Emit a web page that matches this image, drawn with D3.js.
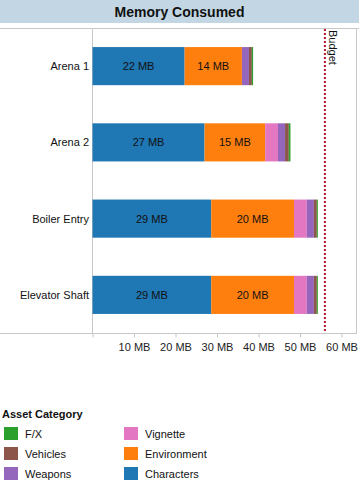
<!DOCTYPE html>
<html>
<head>
<meta charset="utf-8">
<script src="https://cdn.jsdelivr.net/npm/d3@7"></script>
<style>
  body { margin: 0; background: #fff; }
  text { font-family: "Liberation Sans", Arial, sans-serif; }
</style>
</head>
<body>
<svg id="chart" width="359" height="484"></svg>
<script>
// ===========================//
// DATA
// ===========================//

var levels = ["Arena 1", "Arena 2", "Boiler Entry", "Elevator Shaft"]
var categories = ["Characters", "Environment", "Vignette", "Weapons", "Vehicles", "F/X"]

var characters  = [22.2, 27.0, 28.6, 28.6]
var environment = [13.8, 14.6, 19.95, 19.95]
var vignette    = [0, 3.1, 3.1, 3.1]
var weapons     = [1.7, 1.7, 1.7, 1.7]
var vehicles    = [0.7, 0.9, 0.7, 0.7]
var fx          = [0.3, 0.4, 0.25, 0.25]

var budget = 56
var ticks = [10, 20, 30, 40, 50, 60]

// legend order (two columns)
var legendItems = ["F/X", "Vehicles", "Weapons", "Vignette", "Environment", "Characters"]

// ===========================//
// SCALES
// ===========================//

var color = d3.scaleOrdinal()
  .domain(categories)
  .range(["#1f77b4", "#ff7f0e", "#e377c2", "#9467bd", "#8c564b", "#2ca02c"])

var svg = d3.select("#chart")

var plotTop = 28, plotBottom = 333, plotLeft = 92, plotRight = 356

var x = d3.scaleLinear().domain([0, 63.2]).range([plotLeft + 0.5, plotLeft + 0.5 + 63.2 * 4.15])

var y = d3.scaleBand()
  .domain(levels)
  .range([plotTop, plotBottom])
  .paddingInner(0.5)
  .paddingOuter(0.25)

// stacked rows
var rows = levels.map(function(l, i){
  return {level: l, "Characters": characters[i], "Environment": environment[i], "Vignette": vignette[i],
          "Weapons": weapons[i], "Vehicles": vehicles[i], "F/X": fx[i]}
})
var stack = d3.stack().keys(categories)(rows)

// ===========================//
// TITLE
// ===========================//

svg.append("rect").attr("x", 0).attr("y", 0).attr("width", 359).attr("height", 23).attr("fill", "#c3d6e4")
svg.append("text").attr("x", 179.5).attr("y", 17).attr("text-anchor", "middle")
  .style("font-size", "14px").style("font-weight", "bold").attr("fill", "#111")
  .text("Memory Consumed")

// frame lines
svg.append("line").attr("x1", 0).attr("x2", 359).attr("y1", plotTop + 0.5).attr("y2", plotTop + 0.5).attr("stroke", "#c8c8c8")
svg.append("line").attr("x1", plotLeft + 0.5).attr("x2", plotLeft + 0.5).attr("y1", plotTop).attr("y2", plotBottom).attr("stroke", "#c8c8c8")
svg.append("line").attr("x1", plotRight + 0.5).attr("x2", plotRight + 0.5).attr("y1", plotTop).attr("y2", plotBottom).attr("stroke", "#c8c8c8")

// ===========================//
// BARS
// ===========================//

svg.selectAll("g.layer")
  .data(stack)
  .enter()
  .append("g")
    .attr("class", "layer")
    .attr("fill", function(d){ return color(d.key) })
  .selectAll("rect")
  .data(function(d){ return d })
  .enter()
  .append("rect")
    .attr("x", function(d){ return x(d[0]) })
    .attr("y", function(d){ return y(d.data.level) })
    .attr("width", function(d){ return x(d[1]) - x(d[0]) })
    .attr("height", y.bandwidth())

// labels inside the two big segments
stack.slice(0, 2).forEach(function(layer){
  svg.selectAll(null)
    .data(layer)
    .enter()
    .append("text")
      .attr("x", function(d){ return (x(d[0]) + x(d[1])) / 2 })
      .attr("y", function(d){ return y(d.data.level) + y.bandwidth() / 2 + 4 })
      .attr("text-anchor", "middle")
      .style("font-size", "11px")
      .attr("fill", "#111")
      .text(function(d){ return Math.round(d.data[layer.key]) + " MB" })
})

// category labels
svg.selectAll(null)
  .data(levels)
  .enter()
  .append("text")
    .attr("x", plotLeft - 3)
    .attr("y", function(d){ return y(d) + y.bandwidth() / 2 + 4 })
    .attr("text-anchor", "end")
    .style("font-size", "11px")
    .attr("fill", "#111")
    .text(function(d){ return d })

// ===========================//
// BUDGET LINE
// ===========================//

svg.append("line")
  .attr("x1", x(budget)).attr("x2", x(budget))
  .attr("y1", plotTop + 1).attr("y2", plotBottom)
  .attr("stroke", "#b2182b").attr("stroke-width", 2).attr("stroke-dasharray", "2,2")

svg.append("text")
  .attr("transform", "translate(" + (x(budget) + 4) + "," + (plotTop + 2) + ") rotate(90)")
  .style("font-size", "11px")
  .attr("fill", "#111")
  .text("Budget")

// ===========================//
// AXIS
// ===========================//

var axis = svg.append("g")
  .attr("transform", "translate(0," + (plotBottom + 0.5) + ")")
  .call(d3.axisBottom(x).tickValues([0].concat(ticks)).tickSize(4)
    .tickFormat(function(d){ return d ? d + " MB" : "" }))

axis.select(".domain").remove()
axis.selectAll("line").attr("stroke", "#c8c8c8")
axis.selectAll("text").style("font-size", "11px").attr("fill", "#222").attr("dy", "0.95em")
svg.append("line").attr("x1", 0).attr("x2", plotRight + 1).attr("y1", plotBottom + 0.5).attr("y2", plotBottom + 0.5).attr("stroke", "#c8c8c8")

// ===========================//
// LEGEND
// ===========================//

svg.append("text").attr("x", 2).attr("y", 418)
  .style("font-size", "11px").style("font-weight", "bold").attr("fill", "#111")
  .text("Asset Category")

var leg = svg.selectAll("g.leg")
  .data(legendItems)
  .enter()
  .append("g")
    .attr("class", "leg")
    .attr("transform", function(d, i){ return "translate(" + (i < 3 ? 4 : 124) + "," + (427 + (i % 3) * 20) + ")" })

leg.append("rect").attr("width", 14).attr("height", 13).attr("fill", function(d){ return color(d) })
leg.append("text").attr("x", 21).attr("y", 11).style("font-size", "11px").attr("fill", "#111").text(function(d){ return d })
</script>
</body>
</html>
